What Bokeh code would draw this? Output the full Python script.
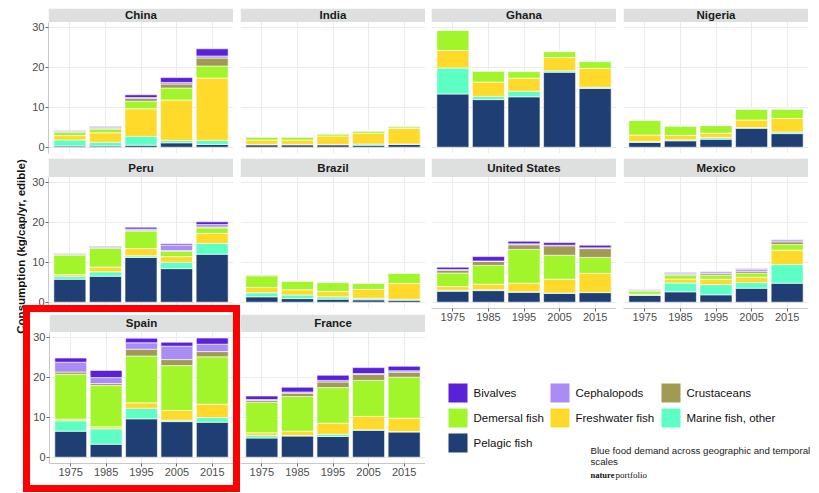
import math
from bokeh.plotting import figure
from bokeh.models import FixedTicker, ColumnDataSource, Spacer
from bokeh.layouts import row, column
from bokeh.embed import file_html
from bokeh.resources import INLINE
from bokeh.core.properties import value

# ---------------- data ----------------
years = ["1975", "1985", "1995", "2005", "2015"]
countries = ["China", "India", "Ghana", "Nigeria", "Peru", "Brazil",
             "United States", "Mexico", "Spain", "France"]
species = ["Pelagic fish", "Marine fish, other", "Freshwater fish", "Demersal fish",
           "Crustaceans", "Cephalopods", "Bivalves"]
keys = ["pel", "mar", "fre", "dem", "cru", "cep", "biv"]
colors = ["#1F3F74", "#5EFFC4", "#FFDA2B", "#A2F52A", "#A09A52", "#A98CF5", "#5A22D8"]

pelagic = {
    "China": [0.3, 0.3, 0.5, 1.1, 0.7],
    "India": [0.6, 0.6, 0.6, 0.5, 0.7],
    "Ghana": [13.3, 11.9, 12.6, 18.75, 14.7],
    "Nigeria": [1.2, 1.6, 2.0, 4.75, 3.4],
    "Peru": [5.75, 6.5, 11.2, 8.4, 12.0],
    "Brazil": [1.35, 0.9, 0.75, 0.6, 0.5],
    "United States": [2.75, 2.9, 2.5, 2.25, 2.4],
    "Mexico": [1.75, 2.6, 1.85, 3.5, 4.75],
    "Spain": [6.5, 3.25, 9.6, 8.9, 8.75],
    "France": [4.8, 5.3, 5.2, 6.75, 6.3],
}
marine_other = {
    "China": [1.5, 0.95, 2.2, 0.6, 1.0],
    "India": [0.1, 0.1, 0.1, 0.3, 0.1],
    "Ghana": [6.5, 0.8, 1.4, 0.35, 0.3],
    "Nigeria": [0.25, 0.25, 0.4, 0.15, 0.4],
    "Peru": [0.75, 1.1, 0.4, 1.6, 2.7],
    "Brazil": [1.0, 0.9, 0.6, 0.4, 0.25],
    "United States": [0.25, 0.2, 0.1, 0.05, 0.05],
    "Mexico": [0.05, 2.2, 2.55, 1.4, 4.65],
    "Spain": [2.6, 3.85, 2.6, 0.35, 1.15],
    "France": [0.6, 0.1, 0.55, 0.1, 0.1],
}
freshwater = {
    "China": [1.1, 2.35, 6.9, 10.1, 15.6],
    "India": [1.1, 1.1, 2.1, 2.7, 3.9],
    "Ghana": [4.4, 3.6, 3.25, 3.3, 4.7],
    "Nigeria": [1.6, 1.1, 1.1, 1.9, 3.4],
    "Peru": [0.4, 1.2, 1.8, 1.4, 2.5],
    "Brazil": [1.35, 1.3, 1.35, 2.2, 3.95],
    "United States": [0.9, 1.4, 2.15, 3.45, 4.75],
    "Mexico": [0.2, 1.0, 1.35, 1.35, 3.6],
    "Spain": [0.4, 0.5, 1.4, 2.45, 3.35],
    "France": [0.7, 1.1, 2.75, 3.35, 3.35],
}
demersal = {
    "China": [0.85, 0.9, 1.9, 3.0, 3.0],
    "India": [0.7, 0.7, 0.5, 0.5, 0.4],
    "Ghana": [5.0, 2.7, 1.65, 1.5, 1.7],
    "Nigeria": [3.7, 2.35, 1.9, 2.7, 2.3],
    "Peru": [4.9, 4.7, 4.4, 1.35, 1.4],
    "Brazil": [2.9, 2.15, 2.2, 1.55, 2.5],
    "United States": [3.4, 4.7, 8.45, 6.0, 4.0],
    "Mexico": [0.75, 0.95, 1.0, 1.0, 1.4],
    "Spain": [11.25, 10.3, 11.7, 11.2, 11.85],
    "France": [7.65, 8.7, 8.9, 9.0, 10.25],
}
crustaceans = {
    "China": [0.15, 0.25, 0.75, 1.0, 2.0],
    "India": [0.1, 0.1, 0.1, 0.1, 0.1],
    "Ghana": [0.05, 0.1, 0.1, 0.1, 0.1],
    "Nigeria": [0.05, 0.05, 0.05, 0.1, 0.1],
    "Peru": [0.1, 0.15, 0.2, 0.15, 0.2],
    "Brazil": [0.2, 0.1, 0.1, 0.1, 0.1],
    "United States": [0.7, 1.0, 1.15, 2.35, 2.2],
    "Mexico": [0.15, 0.25, 0.4, 0.5, 0.7],
    "Spain": [0.55, 0.5, 1.7, 1.5, 1.3],
    "France": [0.45, 0.8, 1.4, 1.5, 1.25],
}
cephalopods = {
    "China": [0.1, 0.15, 0.15, 0.4, 0.5],
    "India": [0.1, 0.1, 0.1, 0.1, 0.1],
    "Ghana": [0.05, 0.1, 0.1, 0.1, 0.1],
    "Nigeria": [0.05, 0.05, 0.05, 0.1, 0.1],
    "Peru": [0.1, 0.1, 0.3, 1.4, 0.6],
    "Brazil": [0.1, 0.05, 0.1, 0.05, 0.1],
    "United States": [0.15, 0.1, 0.25, 0.15, 0.2],
    "Mexico": [0.25, 0.3, 0.45, 0.5, 0.5],
    "Spain": [2.45, 1.5, 1.6, 3.35, 1.85],
    "France": [0.2, 0.3, 0.4, 0.2, 0.35],
}
bivalves = {
    "China": [0.1, 0.2, 0.7, 1.2, 1.8],
    "India": [0.0, 0.0, 0.0, 0.0, 0.0],
    "Ghana": [0.0, 0.0, 0.0, 0.0, 0.0],
    "Nigeria": [0.0, 0.0, 0.0, 0.0, 0.0],
    "Peru": [0.1, 0.15, 0.45, 0.3, 0.7],
    "Brazil": [0.0, 0.0, 0.0, 0.0, 0.0],
    "United States": [0.6, 1.1, 0.65, 0.65, 0.65],
    "Mexico": [0.1, 0.1, 0.1, 0.1, 0.1],
    "Spain": [1.05, 1.8, 1.15, 1.0, 1.55],
    "France": [0.9, 1.2, 1.3, 1.5, 1.15],
}
series = [pelagic, marine_other, freshwater, demersal, crustaceans, cephalopods, bivalves]
y_ticks = [0, 10, 20, 30]
y_title = "Consumption (kg/cap/yr, edible)"
caption = ["Blue food demand across geographic and temporal", "scales"]

# ---------------- style / layout ----------------
FONT = value("Liberation Sans")
STRIP = "#DEE0E0"
GRID = "#EBEBEB"
TICKCOL = "#4D4D4D"
PX = 4.0              # pixels per unit
PANEL_TOP = 31.3      # data value of panel top (strip starts here)
X_RANGE = (0.4, 5.6)


def panel(country, width, height, bl, bt, bb, frame_h, zero_from_top,
          show_y=False, show_x=False, transparent=False):
    y_start = -(frame_h - zero_from_top) / PX
    y_end = zero_from_top / PX
    p = figure(width=width, height=height, x_range=X_RANGE, y_range=(y_start, y_end),
               output_backend="svg", toolbar_location=None,
               min_border_left=bl, min_border_right=0, min_border_top=bt,
               min_border_bottom=bb)
    p.outline_line_color = None
    if transparent:
        p.border_fill_color = None
    xs = list(range(1, len(years) + 1))
    data = {"x": xs}
    for k, s in zip(keys, series):
        data[k] = s[country]
    src = ColumnDataSource(data)
    p.vbar_stack(keys, x="x", width=0.9, color=colors, line_color="white",
                 line_width=0.6, source=src)
    # grids
    p.xgrid.ticker = FixedTicker(ticks=xs)
    p.ygrid.ticker = FixedTicker(ticks=y_ticks)
    p.xgrid.grid_line_color = GRID
    p.ygrid.grid_line_color = GRID
    # strip
    p.quad(left=[X_RANGE[0]], right=[X_RANGE[1]], bottom=[PANEL_TOP], top=[y_end],
           color=STRIP, line_color=None)
    p.text(x=[(X_RANGE[0] + X_RANGE[1]) / 2], y=[(PANEL_TOP + y_end) / 2], text=[country],
           text_align="center", text_baseline="middle", text_font=FONT,
           text_font_style="bold", text_font_size="11.5px", text_color="#1A1A1A")
    # axes
    p.xaxis.ticker = FixedTicker(ticks=xs)
    p.xaxis.major_label_overrides = {i: y for i, y in zip(xs, years)}
    p.yaxis.ticker = FixedTicker(ticks=y_ticks)
    for ax in (p.xaxis[0], p.yaxis[0]):
        ax.axis_line_color = "#C8C8C8"
        ax.major_tick_line_color = "#666666"
        ax.major_tick_in = 0
        ax.major_tick_out = 3
        ax.minor_tick_line_color = None
        ax.major_label_text_font = "Liberation Sans"
        ax.major_label_text_font_size = "11px"
        ax.major_label_text_color = TICKCOL
        ax.major_label_standoff = 1
    p.yaxis.bounds = (y_start, PANEL_TOP)
    p.xaxis.visible = show_x
    p.yaxis.visible = show_y
    return p


# Row A (page y 8..158): frame 145, zero at 138.7 from frame top
china = panel("China", 206, 150, 21, 0, 5, 145, 138.7, show_y=True)
india = panel("India", 192, 150, 7, 0, 5, 145, 138.7)
ghana = panel("Ghana", 191, 150, 6, 0, 5, 145, 138.7)
nigeria = panel("Nigeria", 192, 150, 7, 0, 5, 145, 138.7)

# Row B (page y 158..): frame 150, zero at 143.7
peru = panel("Peru", 206, 154, 21, 0, 4, 150, 143.7, show_y=True)
brazil = panel("Brazil", 192, 154, 7, 0, 4, 150, 143.7)
usa = panel("United States", 191, 170, 6, 0, 20, 150, 143.7, show_x=True)
mexico = panel("Mexico", 192, 170, 7, 0, 20, 150, 143.7, show_x=True)

# Row C (page y 312..485): frame 149 starting at 314, zero at 142.7
spain = panel("Spain", 203, 173, 18, 2, 22, 149, 142.7, show_y=True, show_x=True)
spain.styles = {"outline": "7px solid #FF0000", "z-index": "5"}
france = panel("France", 192, 173, 7, 2, 22, 149, 142.7, show_x=True, transparent=True)

# y-axis title column
TW = 27
tfig = figure(width=TW, height=477, x_range=(0, TW), y_range=(0, 477),
              output_backend="svg", toolbar_location=None, min_border=0)
tfig.axis.visible = False
tfig.grid.visible = False
tfig.outline_line_color = None
tfig.text(x=[20.5], y=[239], text=[y_title], angle=math.pi / 2, text_align="center",
          text_baseline="middle", text_font=FONT, text_font_style="bold",
          text_font_size="11.5px", text_color="#111111")

# legend + caption
LW, LH = 394, 157
lfig = figure(width=LW, height=LH, x_range=(0, LW), y_range=(0, LH),
              output_backend="svg", toolbar_location=None, min_border=0)
lfig.axis.visible = False
lfig.grid.visible = False
lfig.outline_line_color = None
col_left = [23, 125, 236]
row_top = [102, 77, 52]
SQ = 19
leg_names = species[::-1]
leg_cols = colors[::-1]
lx, ly, tx = [], [], []
for i, _ in enumerate(leg_names):
    c, r = i % 3, i // 3
    lx.append(col_left[c])
    ly.append(row_top[r])
    tx.append(col_left[c] + SQ + 6)
lfig.quad(left=lx, right=[v + SQ for v in lx], top=ly, bottom=[v - SQ for v in ly],
          color=leg_cols, line_color=None)
lfig.text(x=tx, y=[v - SQ / 2 for v in ly], text=leg_names, text_baseline="middle",
          text_font=FONT, text_font_size="11.5px", text_color="#111111")
lfig.text(x=[165, 165], y=[35, 24], text=caption, text_baseline="middle",
          text_font=FONT, text_font_size="9.7px", text_color="#222222")
lfig.text(x=[165], y=[11], text=["nature"], text_baseline="middle",
          text_font=value("Liberation Serif"), text_font_style="bold",
          text_font_size="8.5px", text_color="#111111")
lfig.text(x=[190], y=[11], text=["portfolio"], text_baseline="middle",
          text_font=value("Liberation Serif"), text_font_size="9px",
          text_color="#111111")

left_block = column(row(china, india), row(peru, brazil),
                    row(Spacer(width=3, height=173), spain, france))
right_block = column(row(ghana, nigeria), row(usa, mexico), lfig)
layout = column(Spacer(width=10, height=8), row(tfig, left_block, right_block))

open("out.html", "w").write(file_html(layout, INLINE))
